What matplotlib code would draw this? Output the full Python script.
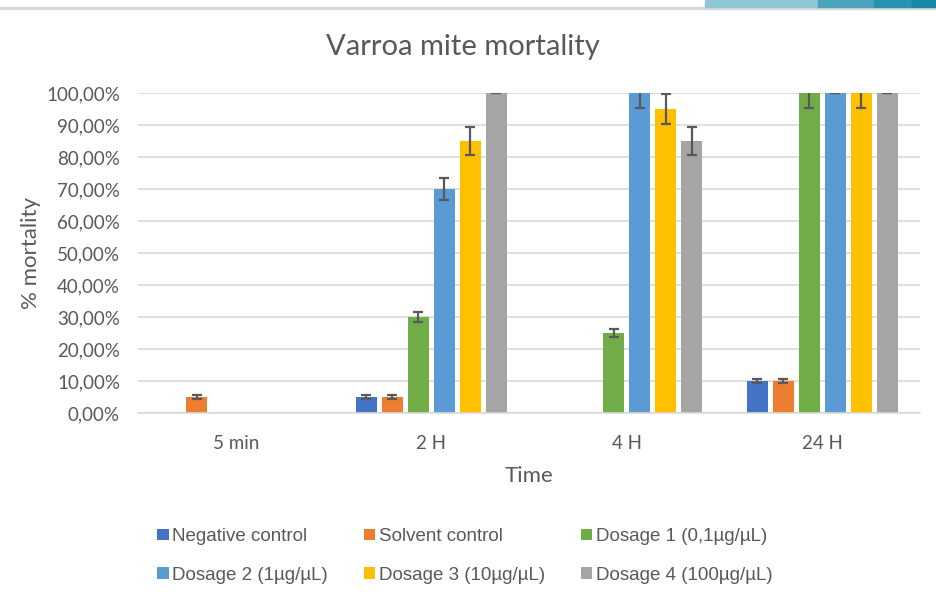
import numpy as np
import matplotlib.pyplot as plt
from matplotlib.patches import Rectangle
from matplotlib.ticker import FuncFormatter

# Dados
tempos = ['5 min', '2 H', '4 H', '24 H']
series = ['Negative control', 'Solvent control', 'Dosage 1 (0,1µg/µL)',
          'Dosage 2 (1µg/µL)', 'Dosage 3 (10µg/µL)', 'Dosage 4 (100µg/µL)']
neg_control = [0, 5, 0, 10]
solv_control = [5, 5, 0, 10]
dose_1 = [0, 30, 25, 100]
dose_2 = [0, 70, 100, 100]
dose_3 = [0, 85, 95, 100]
dose_4 = [0, 100, 85, 100]
err_neg = [0, 0.5, 0, 0.5]
err_solv = [0.5, 0.5, 0, 0.5]
err_1 = [0, 1.7, 1.4, 4.7]
err_2 = [0, 3.4, 4.7, 0]
err_3 = [0, 4.4, 4.8, 4.7]
err_4 = [0, 0, 4.4, 0]

valores = [neg_control, solv_control, dose_1, dose_2, dose_3, dose_4]
erros = [err_neg, err_solv, err_1, err_2, err_3, err_4]
cores = ['#4472C4', '#ED7D31', '#70AD47', '#5B9BD5', '#FFC000', '#A5A5A5']

cinza = '#595959'
plt.rcParams['font.family'] = ['Lato', 'DejaVu Sans']

fig = plt.figure(figsize=(9.37, 5.99), dpi=100)
ax = fig.add_axes([0.1473, 0.3105, 0.8346, 0.5342])

x = np.arange(len(tempos))
passo = 0.133
largura = 0.107
barras = []
for i, (v, e, c) in enumerate(zip(valores, erros, cores)):
    pos = x + (i - 2.5) * passo
    b = ax.bar(pos, v, largura, color=c, label=series[i], zorder=2)
    barras.append(b)
    mask = [val > 0 for val in v]
    ax.errorbar(pos[mask], np.array(v)[mask], yerr=np.array(e)[mask], fmt='none',
                ecolor=cinza, elinewidth=1.6, capsize=3.6, capthick=1.6, zorder=3)

ax.set_xlim(-0.5, 3.5)
ax.set_ylim(0, 100)
ax.set_yticks(np.arange(0, 101, 10))
ax.yaxis.set_major_formatter(FuncFormatter(lambda v, p: f'{v:.2f}%'.replace('.', ',')))
ax.set_xticks(x)
ax.set_xticklabels(tempos)
ax.tick_params(length=0, colors=cinza, labelsize=13.5)
ax.tick_params(axis='x', pad=16)
ax.tick_params(axis='y', pad=13)
ax.grid(axis='y', color='#D9D9D9', linewidth=1.2, zorder=0)
ax.set_axisbelow(True)
for s in ['top', 'right', 'left']:
    ax.spines[s].set_visible(False)
ax.spines['bottom'].set_color('#D9D9D9')
ax.spines['bottom'].set_linewidth(1.2)

ax.set_xlabel('Time', fontsize=16, color=cinza, labelpad=10)
ax.set_ylabel('% mortality', fontsize=16, color=cinza, labelpad=4)
fig.text(0.494, 0.922, 'Varroa mite mortality', ha='center', va='center',
         fontsize=21, color=cinza)

# legenda por linhas, como no Excel
ordem = [0, 3, 1, 4, 2, 5]
leg = fig.legend(handles=[barras[k] for k in ordem], labels=[series[k] for k in ordem],
                 ncol=3, loc='center', bbox_to_anchor=(0.496, 0.072), frameon=False,
                 fontsize=13.5, handlelength=0.6, handleheight=0.6, handletextpad=0.2,
                 columnspacing=1.9, labelspacing=1.15)
for t in leg.get_texts():
    t.set_color(cinza)
    t.set_family(['Liberation Sans', 'DejaVu Sans'])

# faixa decorativa do slide no topo
fig.patches.append(Rectangle((0, 1 - 9 / 599), 1, 2 / 599, transform=fig.transFigure,
                             color='#D9D9D9', zorder=0))
faixas = [(705, 818, '#8FC6D3'), (818, 874, '#4BA3BC'), (874, 912, '#2793B0'), (912, 937, '#1A88A8')]
for x0, x1, c in faixas:
    fig.patches.append(Rectangle((x0 / 937, 1 - 7 / 599), (x1 - x0) / 937, 7 / 599,
                                 transform=fig.transFigure, color=c, zorder=1))

fig.savefig('out.png', dpi=100)
